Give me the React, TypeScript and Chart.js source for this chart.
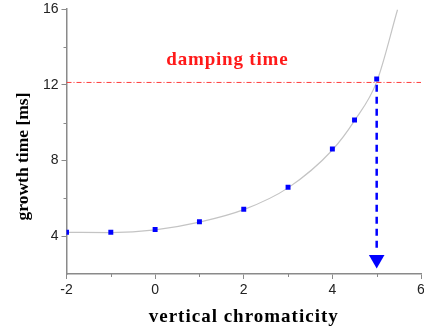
import React, { useEffect, useRef } from "react";
import { Chart, registerables } from "chart.js";

Chart.register(...registerables);

// Measured points
const chromaticity = [-2, -1, 0, 1, 2, 3, 4, 4.5, 5];
const growthTime = [4.21, 4.21, 4.35, 4.76, 5.42, 6.58, 8.6, 10.14, 12.3];

// Fit curve
const fitX = [-2, -1, 0, 1, 2, 3, 4, 4.5, 5, 5.47];
const fitY = [4.2, 4.19, 4.33, 4.74, 5.4, 6.55, 8.55, 10.1, 12.15, 15.96];

// Damping time level
const dampingTime = 12.12;
const dampingLineX = [-2, 6];
const dampingLabel = "damping time";
const dampingLabelPos = { x: 1.63, y: 13.3 };

// Vertical arrow at the chromaticity where growth = damping
const arrowX = 5;
const arrowFromY = 12.0;
const arrowToY = 3.15;
const arrowHeadY = 2.77;

// Axes
const xMin = -2, xMax = 6;
const yMin = 2, yMax = 16;
const xTickValues = [-2, 0, 2, 4, 6];
const yTickValues = [4, 8, 12, 16];
const xMinorTicks = [-1, 1, 3, 5];
const yMinorTicks = [6, 10, 14];
const xTitle = "vertical chromaticity";
const yTitle = "growth time [ms]";

const AXIS_COLOR = "#8a8a8a";

export default function App() {
  const ref = useRef<HTMLCanvasElement>(null);
  useEffect(() => {
    const canvas = ref.current;
    if (!canvas) return;

    const extras = {
      id: "extras",
      afterDraw(chart: any) {
        const { ctx, chartArea } = chart;
        const xs = chart.scales.x;
        const ys = chart.scales.y;
        ctx.save();
        // minor ticks
        ctx.strokeStyle = AXIS_COLOR;
        ctx.lineWidth = 1;
        xMinorTicks.forEach((v) => {
          const px = Math.round(xs.getPixelForValue(v)) + 0.5;
          ctx.beginPath();
          ctx.moveTo(px, chartArea.bottom);
          ctx.lineTo(px, chartArea.bottom + 3);
          ctx.stroke();
        });
        yMinorTicks.forEach((v) => {
          const py = Math.round(ys.getPixelForValue(v)) + 0.5;
          ctx.beginPath();
          ctx.moveTo(chartArea.left, py);
          ctx.lineTo(chartArea.left - 3, py);
          ctx.stroke();
        });
        // damping label
        ctx.fillStyle = "#ff1a1a";
        ctx.font = "bold 19px 'Liberation Serif', 'Times New Roman', serif";
        (ctx as any).letterSpacing = "0.8px";
        ctx.textAlign = "center";
        ctx.textBaseline = "middle";
        ctx.fillText(
          dampingLabel,
          xs.getPixelForValue(dampingLabelPos.x),
          ys.getPixelForValue(dampingLabelPos.y)
        );
        // axis titles
        ctx.fillStyle = "#000";
        ctx.font = "bold 19px 'Liberation Serif', 'Times New Roman', serif";
        (ctx as any).letterSpacing = "1px";
        ctx.fillText(xTitle, (chartArea.left + chartArea.right) / 2, chartArea.bottom + 43);
        (ctx as any).letterSpacing = "0px";
        ctx.font = "bold 17.5px 'Liberation Serif', 'Times New Roman', serif";
        ctx.translate(23, (chartArea.top + chartArea.bottom) / 2 + 15);
        ctx.rotate(-Math.PI / 2);
        ctx.fillText(yTitle, 0, 0);
        ctx.restore();
      },
    };

    const tickFont = { family: "'Liberation Sans', Arial, sans-serif", size: 14 };

    const chart = new Chart(canvas, {
      type: "scatter",
      data: {
        datasets: [
          {
            label: "fit",
            data: fitX.map((x, i) => ({ x, y: fitY[i] })),
            showLine: true,
            borderColor: "#c4c4c4",
            borderWidth: 1.2,
            pointRadius: 0,
            cubicInterpolationMode: "monotone",
            order: 3,
          },
          {
            label: "damping",
            data: dampingLineX.map((x) => ({ x, y: dampingTime })),
            showLine: true,
            borderColor: "#ff3b3b",
            borderWidth: 1,
            borderDash: [5, 2, 1, 2],
            pointRadius: 0,
            order: 2,
          },
          {
            label: "arrow",
            data: [
              { x: arrowX, y: arrowFromY },
              { x: arrowX, y: arrowToY },
            ],
            showLine: true,
            borderColor: "#0000ff",
            borderWidth: 2.5,
            borderDash: [7, 5],
            pointRadius: 0,
            order: 1,
          },
          {
            label: "arrowhead",
            data: [{ x: arrowX, y: arrowHeadY }],
            pointStyle: "triangle",
            rotation: 180,
            pointRadius: 9,
            backgroundColor: "#0000ff",
            borderColor: "#0000ff",
            borderWidth: 0,
            order: 1,
          },
          {
            label: "points",
            data: chromaticity.map((x, i) => ({ x, y: growthTime[i] })),
            pointStyle: "rect",
            pointRadius: 3.5,
            backgroundColor: "#0000ff",
            borderWidth: 0,
            order: 0,
          },
        ],
      },
      options: {
        animation: false,
        responsive: false,
        layout: { padding: { top: 8.3, right: 7.5, left: 0, bottom: 0 } },
        plugins: { legend: { display: false }, tooltip: { enabled: false } },
        scales: {
          x: {
            type: "linear",
            min: xMin,
            max: xMax,
            afterBuildTicks: (s: any) => { s.ticks = xTickValues.map((value) => ({ value })); },
            afterFit: (s: any) => { s.height = 59; },
            ticks: { padding: 3, color: "#222", font: tickFont },
            grid: { drawOnChartArea: false, drawTicks: true, tickLength: 5, color: AXIS_COLOR, tickColor: AXIS_COLOR },
            border: { display: true, color: AXIS_COLOR, width: 1.5 },
          },
          y: {
            type: "linear",
            min: yMin,
            max: yMax,
            afterBuildTicks: (s: any) => { s.ticks = yTickValues.map((value) => ({ value })); },
            afterFit: (s: any) => { s.width = 66.5; s.paddingTop = 0; s.paddingBottom = 0; },
            ticks: { padding: 3, color: "#222", font: tickFont },
            grid: { drawOnChartArea: false, drawTicks: true, tickLength: 5, color: AXIS_COLOR, tickColor: AXIS_COLOR },
            border: { display: true, color: AXIS_COLOR, width: 1.5 },
          },
        },
      },
      plugins: [extras],
    } as any);
    return () => chart.destroy();
  }, []);

  return (
    <div style={{ position: "absolute", left: 0, top: 0, width: 424, height: 333, overflow: "hidden", background: "#fff" }}>
      <canvas ref={ref} width={430} height={333} style={{ width: 430, height: 333, display: "block" }} />
    </div>
  );
}
